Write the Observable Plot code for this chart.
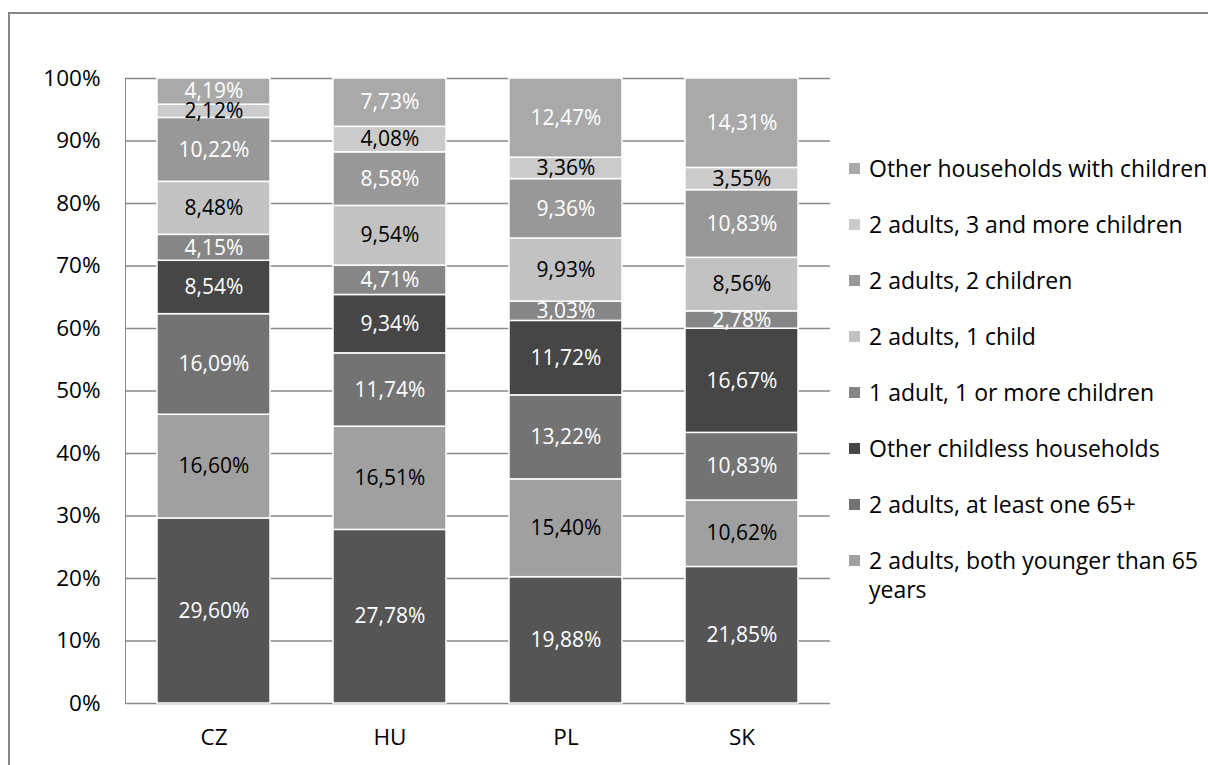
<!DOCTYPE html>
<html>
<head>
<meta charset="utf-8">
<script src="https://cdn.jsdelivr.net/npm/d3@7"></script>
<script src="https://cdn.jsdelivr.net/npm/@observablehq/plot@0.6"></script>
<style>
  html, body { margin: 0; padding: 0; background: #fff; }
  body { width: 1208px; height: 765px; overflow: hidden; position: relative; font-family: "Open Sans", sans-serif; }
  #frame { position: absolute; left: 8px; top: 12px; width: 1400px; height: 900px; border: 2px solid #878787; box-sizing: border-box; }
  #chart { position: absolute; left: 0; top: 0; }
  #legend { position: absolute; left: 0; top: 0; }
  .item { position: absolute; display: flex; align-items: flex-start; font-size: 23px; line-height: 29px; color: #000; }
  .swatch { width: 11px; height: 11px; margin-top: 9px; margin-right: 9px; flex: none; }
  .label { width: 348px; }
</style>
</head>
<body>
<div id="frame"></div>
<div id="chart"></div>
<div id="legend"></div>
<script>
// ---- data ----
const countries = ["CZ", "HU", "PL", "SK"];
// series, bottom to top of each bar
const seriesNames = [
  "Single person",
  "2 adults, both younger than 65 years",
  "2 adults, at least one 65+",
  "Other childless households",
  "1 adult, 1 or more children",
  "2 adults, 1 child",
  "2 adults, 2 children",
  "2 adults, 3 and more children",
  "Other households with children"
];
const seriesColors = ["#555555", "#a0a0a0", "#737373", "#464646", "#868686", "#c2c2c2", "#989898", "#cbcbcb", "#a9a9a9"];
// series shown in the legend (top to bottom)
const legendSeries = [
  "Other households with children",
  "2 adults, 3 and more children",
  "2 adults, 2 children",
  "2 adults, 1 child",
  "1 adult, 1 or more children",
  "Other childless households",
  "2 adults, at least one 65+",
  "2 adults, both younger than 65 years"
];
// series whose value labels are black
const darkLabelSeries = ["2 adults, both younger than 65 years", "2 adults, 1 child", "2 adults, 3 and more children"];

const valuesCZ = [29.60, 16.60, 16.09, 8.54, 4.15, 8.48, 10.22, 2.12, 4.19];
const valuesHU = [27.78, 16.51, 11.74, 9.34, 4.71, 9.54, 8.58, 4.08, 7.73];
const valuesPL = [19.88, 15.40, 13.22, 11.72, 3.03, 9.93, 9.36, 3.36, 12.47];
const valuesSK = [21.85, 10.62, 10.83, 16.67, 2.78, 8.56, 10.83, 3.55, 14.31];
const yTicks = [0, 0.1, 0.2, 0.3, 0.4, 0.5, 0.6, 0.7, 0.8, 0.9, 1];

// ---- build table ----
const valuesByCountry = [valuesCZ, valuesHU, valuesPL, valuesSK];
const data = countries.flatMap((c, i) =>
  seriesNames.map((s, j) => ({country: c, series: s, value: valuesByCountry[i][j]}))
);
const fmt = v => v.toFixed(2).replace(".", ",") + "%";
const stackOpts = {x: "country", y: "value", z: "series", order: seriesNames, offset: "normalize"};

const chart = Plot.plot({
  width: 1208,
  height: 765,
  marginLeft: 125,
  marginRight: 378,
  marginTop: 78,
  marginBottom: 62,
  style: {fontFamily: "Open Sans", fontSize: "22.5px", color: "#898989", background: "transparent"},
  x: {domain: countries, paddingInner: 0.36, paddingOuter: 0.18, label: null, tickSize: 0, tickPadding: 26},
  y: {domain: [0, 1], ticks: yTicks, tickFormat: d => Math.round(d * 100) + "%", label: null, tickSize: 0, tickPadding: 25, line: true},
  color: {domain: seriesNames, range: seriesColors},
  marks: [
    Plot.ruleY(yTicks, {stroke: "#898989", strokeWidth: 1.6}),
    Plot.barY(data, Plot.stackY({...stackOpts, fill: "series", stroke: "white", strokeWidth: 1.5})),
    Plot.text(data, Plot.stackY({...stackOpts, text: d => darkLabelSeries.includes(d.series) ? fmt(d.value) : null, fill: "#000", fontSize: 21})),
    Plot.text(data, Plot.stackY({...stackOpts, text: d => darkLabelSeries.includes(d.series) ? null : fmt(d.value), fill: "#fff", fontSize: 21}))
  ]
});
chart.querySelectorAll('[aria-label*="axis"] text').forEach(t => t.setAttribute("fill", "#000"));
document.getElementById("chart").appendChild(chart);

// ---- legend ----
const legend = document.getElementById("legend");
legendSeries.forEach((s, i) => {
  const item = document.createElement("div");
  item.className = "item";
  item.style.left = "849px";
  item.style.top = (168 + 56 * i - 14.5) + "px";
  const sw = document.createElement("span");
  sw.className = "swatch";
  sw.style.background = seriesColors[seriesNames.indexOf(s)];
  const lb = document.createElement("span");
  lb.className = "label";
  lb.textContent = s;
  item.appendChild(sw);
  item.appendChild(lb);
  legend.appendChild(item);
});
</script>
</body>
</html>
